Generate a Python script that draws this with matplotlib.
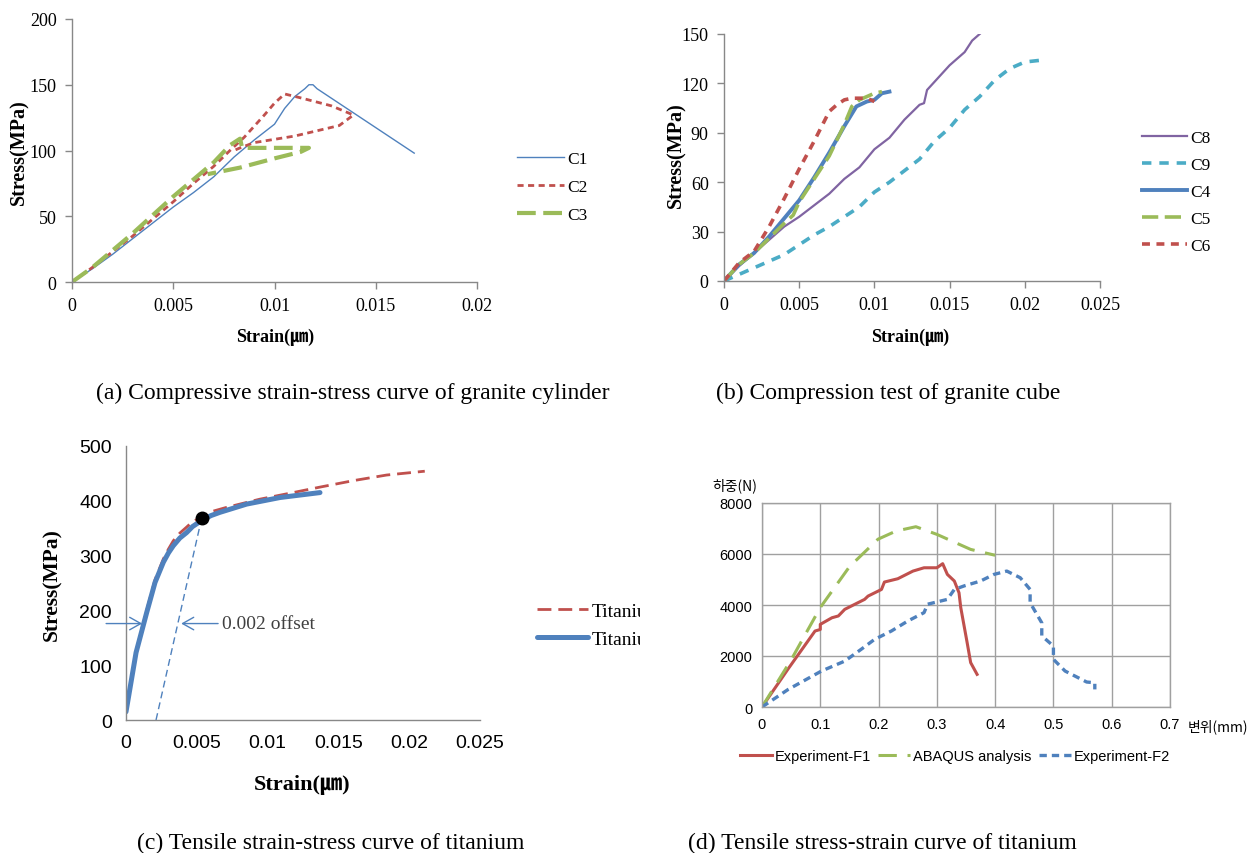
import matplotlib
matplotlib.use("Agg")
import matplotlib.pyplot as plt
from matplotlib.transforms import Bbox, TransformedBbox
from matplotlib.ticker import FuncFormatter, MultipleLocator

# ---------------- data ----------------
# (a) granite cylinder
a_c1_x = [0, 0.001, 0.002, 0.003, 0.004, 0.005, 0.006, 0.007, 0.008, 0.009, 0.010, 0.0105, 0.011, 0.0115, 0.0117, 0.0119, 0.0121, 0.0169]
a_c1_y = [0, 10, 21, 33, 45, 57, 68, 80, 95, 108, 120, 132, 141, 147, 150, 150, 147, 98]
a_c2_x = [0, 0.001, 0.002, 0.003, 0.004, 0.005, 0.006, 0.007, 0.0078, 0.0085, 0.0095, 0.0100, 0.0105, 0.0113, 0.0128, 0.0139, 0.0132, 0.0110, 0.0090, 0.0083, 0.0080]
a_c2_y = [0, 11, 23, 35, 48, 61, 75, 88, 100, 110, 127, 136, 143, 140, 134, 127, 119, 111, 106, 102, 100]
a_c3_x = [0, 0.001, 0.002, 0.003, 0.004, 0.005, 0.006, 0.007, 0.0078, 0.0081, 0.0083, 0.0084, 0.0095, 0.0117, 0.0113, 0.0100, 0.0083, 0.0067]
a_c3_y = [0, 11, 24, 37, 51, 65, 78, 91, 104, 107, 109, 102, 102, 102, 99, 94, 87, 82]

# (b) granite cube
b_c8_x = [0, 0.001, 0.002, 0.003, 0.004, 0.005, 0.006, 0.007, 0.008, 0.009, 0.010, 0.011, 0.012, 0.013, 0.0133, 0.0135, 0.014, 0.015, 0.016, 0.0165, 0.017]
b_c8_y = [0, 9, 17, 25, 33, 39, 46, 53, 62, 69, 80, 87, 98, 107, 108, 116, 121, 131, 139, 146, 150]
b_c9_x = [0, 0.002, 0.004, 0.005, 0.006, 0.007, 0.008, 0.009, 0.010, 0.011, 0.012, 0.013, 0.014, 0.015, 0.016, 0.017, 0.018, 0.019, 0.020, 0.021]
b_c9_y = [0, 8, 16, 22, 28, 33, 39, 45, 54, 60, 67, 74, 85, 93, 104, 112, 122, 129, 133, 134]
b_c4_x = [0, 0.001, 0.002, 0.003, 0.004, 0.005, 0.006, 0.007, 0.008, 0.0088, 0.0095, 0.010, 0.0105, 0.011]
b_c4_y = [0, 10, 17, 27, 38, 49, 63, 78, 94, 106, 109, 110, 114, 115]
b_c5_x = [0, 0.001, 0.002, 0.003, 0.004, 0.0046, 0.005, 0.006, 0.007, 0.008, 0.0085, 0.009, 0.010, 0.0105]
b_c5_y = [0, 10, 17, 26, 35, 40, 48, 62, 76, 95, 106, 110, 114, 115]
b_c6_x = [0, 0.001, 0.002, 0.003, 0.004, 0.005, 0.006, 0.007, 0.0075, 0.008, 0.0085, 0.0095, 0.010]
b_c6_y = [0, 11, 18, 33, 50, 68, 85, 103, 107, 110, 111, 111, 109]

# (c) titanium tensile
c_blue_x = [0, 0.00071, 0.00146, 0.00205, 0.00264, 0.0030, 0.00334, 0.0038, 0.00428, 0.0047, 0.00534, 0.0060, 0.00664, 0.00852, 0.01088, 0.0137]
c_blue_y = [15, 123, 196, 251, 288, 305, 318, 332, 342, 353, 364, 373, 379, 394, 406, 415]
c_red_x = [0, 0.00071, 0.00146, 0.00205, 0.00264, 0.0030, 0.00334, 0.0038, 0.00428, 0.0047, 0.00534, 0.0060, 0.0071, 0.00946, 0.0118, 0.0137, 0.0161, 0.0184, 0.0211]
c_red_y = [15, 125, 200, 256, 294, 312, 327, 341, 352, 362, 370, 380, 388, 403, 415, 425, 437, 447, 454]
c_yield = (0.00534, 368)
c_offset_x = [0.00212, 0.00534]
c_offset_y = [0, 368]
c_arrow_y = 176

# (d) load-displacement
d_f1_x = [0, 0.045, 0.091, 0.1, 0.1, 0.12, 0.131, 0.142, 0.176, 0.182, 0.205, 0.21, 0.233, 0.259, 0.278, 0.3, 0.31, 0.318, 0.33, 0.338, 0.341, 0.352, 0.358, 0.369]
d_f1_y = [0, 1500, 2980, 3040, 3240, 3500, 3570, 3830, 4220, 4350, 4610, 4900, 5030, 5330, 5460, 5460, 5620, 5200, 4940, 4480, 3900, 2520, 1740, 1280]
d_ab_x = [0, 0.05, 0.1, 0.15, 0.199, 0.23, 0.264, 0.3, 0.358, 0.4]
d_ab_y = [0, 1850, 3900, 5500, 6580, 6900, 7070, 6770, 6180, 5950]
d_f2_x = [0, 0.045, 0.102, 0.142, 0.17, 0.193, 0.222, 0.25, 0.278, 0.284, 0.318, 0.33, 0.347, 0.375, 0.398, 0.42, 0.443, 0.46, 0.46, 0.48, 0.48, 0.5, 0.5, 0.52, 0.557, 0.571, 0.571]
d_f2_y = [0, 690, 1410, 1800, 2260, 2650, 2980, 3370, 3700, 4030, 4220, 4610, 4750, 4940, 5200, 5330, 5070, 4610, 4090, 3300, 2790, 2390, 1870, 1410, 980, 950, 690]

# ---------------- style ----------------
BLUE = "#4F81BD"; RED = "#C0504D"; GREEN = "#9BBB59"; PURPLE = "#8064A2"; CYAN = "#4BACC6"
AXC = "#888888"
SERIF = ["Liberation Serif", "Noto Sans CJK KR"]
SANS = ["Liberation Sans", "Noto Sans CJK KR"]
KR = ["Noto Sans CJK KR", "DejaVu Sans"]
CAP = 17

W, H = 1253, 854
fig = plt.figure(figsize=(W / 100, H / 100), dpi=100)


def ax_at(l, t, r, b):
    return fig.add_axes([l / W, 1 - b / H, (r - l) / W, (b - t) / H])


def fx(px):
    return px / W


def fy(py):
    return 1 - py / H


gfmt = FuncFormatter(lambda v, p: f"{v:g}")


def excel_axes(ax, tickfont, tsize, ticks=True):
    for s in ["top", "right"]:
        ax.spines[s].set_visible(False)
    for s in ["left", "bottom"]:
        ax.spines[s].set_color(AXC)
        ax.spines[s].set_linewidth(1.0)
    ax.tick_params(direction="out", length=5 if ticks else 0, width=1, color=AXC, pad=6,
                   labelsize=tsize)
    ax.xaxis.set_major_formatter(gfmt)
    ax.yaxis.set_major_formatter(gfmt)
    for lab in ax.get_xticklabels() + ax.get_yticklabels():
        lab.set_fontfamily(tickfont)


# ---------------- (a) ----------------
ax = ax_at(72, 20, 477, 283)
ax.plot(a_c1_x, a_c1_y, color=BLUE, lw=1.0, label="C1")
ax.plot(a_c2_x, a_c2_y, color=RED, lw=2.0, dashes=(2.2, 1.6), label="C2")
ax.plot(a_c3_x, a_c3_y, color=GREEN, lw=3.0, dashes=(4.5, 1.8), label="C3")
ax.set_xlim(0, 0.02); ax.set_ylim(0, 200)
ax.xaxis.set_major_locator(MultipleLocator(0.005)); ax.yaxis.set_major_locator(MultipleLocator(50))
excel_axes(ax, SERIF, 13)
ax.legend(loc="center left", bbox_to_anchor=(fx(517), fy(188)), bbox_transform=fig.transFigure,
          frameon=False, prop={"family": SERIF, "size": 12.5}, handlelength=2.7, handletextpad=0.2,
          labelspacing=0.7, borderpad=0, borderaxespad=0)
fig.text(fx(275), fy(337), "Strain(㎛)", family=SERIF, weight="bold", size=13, ha="center", va="center")
fig.text(fx(19), fy(152), "Stress(MPa)", family=SERIF, weight="bold", size=14.5, ha="center", va="center", rotation=90)
fig.text(fx(353), fy(393), "(a) Compressive strain-stress curve of granite cylinder", family=SERIF, size=CAP,
         ha="center", va="center")

# ---------------- (b) ----------------
ax = ax_at(724, 35, 1100, 282)
ax.plot(b_c8_x, b_c8_y, color=PURPLE, lw=1.6, label="C8")
ax.plot(b_c9_x, b_c9_y, color=CYAN, lw=2.6, dashes=(2.6, 2.2), label="C9")
ax.plot(b_c4_x, b_c4_y, color=BLUE, lw=2.8, label="C4")
ax.plot(b_c5_x, b_c5_y, color=GREEN, lw=2.6, dashes=(4.5, 1.8), label="C5")
ax.plot(b_c6_x, b_c6_y, color=RED, lw=2.6, dashes=(2.2, 1.8), label="C6")
ax.set_xlim(0, 0.025); ax.set_ylim(0, 150)
ax.xaxis.set_major_locator(MultipleLocator(0.005)); ax.yaxis.set_major_locator(MultipleLocator(30))
excel_axes(ax, SERIF, 13)
ax.legend(loc="center left", bbox_to_anchor=(fx(1142), fy(193)), bbox_transform=fig.transFigure,
          frameon=False, prop={"family": SERIF, "size": 12.5}, handlelength=2.6, handletextpad=0.2,
          labelspacing=0.62, borderpad=0, borderaxespad=0)
fig.text(fx(910), fy(337), "Strain(㎛)", family=SERIF, weight="bold", size=13, ha="center", va="center")
fig.text(fx(676), fy(155), "Stress(MPa)", family=SERIF, weight="bold", size=14.5, ha="center", va="center", rotation=90)
fig.text(fx(888), fy(393), "(b) Compression test of granite cube", family=SERIF, size=CAP,
         ha="center", va="center")

# ---------------- (c) ----------------
ax = ax_at(126, 447, 480, 721)
ax.plot(c_red_x, c_red_y, color=RED, lw=2.0, dashes=(5, 2.5), label="Titanium-1")
ax.plot(c_blue_x, c_blue_y, color=BLUE, lw=3.6, solid_capstyle="round", solid_joinstyle="round", label="Titanium-2")
ax.plot(c_offset_x, c_offset_y, color=BLUE, lw=1.0, dashes=(5, 3))
ax.plot([c_yield[0]], [c_yield[1]], "o", color="black", ms=9, zorder=5)
ax.annotate("", xy=(0.00134, c_arrow_y), xytext=(-0.0016, c_arrow_y),
            arrowprops=dict(arrowstyle="->,head_length=0.8,head_width=0.45", color=BLUE, lw=1.0),
            annotation_clip=False)
ax.annotate("", xy=(0.0037, c_arrow_y), xytext=(0.0067, c_arrow_y),
            arrowprops=dict(arrowstyle="->,head_length=0.8,head_width=0.45", color=BLUE, lw=1.0))
ax.text(0.0068, c_arrow_y, "0.002 offset", family=SERIF, size=14, color="#404040", va="center", ha="left")
ax.set_xlim(0, 0.025); ax.set_ylim(0, 500)
ax.xaxis.set_major_locator(MultipleLocator(0.005)); ax.yaxis.set_major_locator(MultipleLocator(100))
excel_axes(ax, SANS, 14, ticks=False)
ax.tick_params(pad=10)
leg = ax.legend(loc="center left", bbox_to_anchor=(fx(537), fy(626)), bbox_transform=fig.transFigure,
                frameon=False, prop={"family": SERIF, "size": 14}, handlelength=2.6, handletextpad=0.2,
                labelspacing=0.55, borderpad=0, borderaxespad=0)
clip = TransformedBbox(Bbox.from_extents(0, 0, 640 / W, 1), fig.transFigure)
for t in leg.get_texts():
    t.set_clip_box(clip)
    t.set_clip_on(True)
fig.text(fx(302), fy(785), "Strain(㎛)", family=SERIF, weight="bold", size=16, ha="center", va="center")
fig.text(fx(52), fy(585), "Stress(MPa)", family=SERIF, weight="bold", size=15.5, ha="center", va="center", rotation=90)
fig.text(fx(331), fy(843), "(c) Tensile strain-stress curve of titanium", family=SERIF, size=CAP,
         ha="center", va="center")

# ---------------- (d) ----------------
ax = ax_at(762, 504, 1170, 708)
ax.plot(d_f1_x, d_f1_y, color=RED, lw=2.2, label="Experiment-F1")
ax.plot(d_ab_x, d_ab_y, color=GREEN, lw=2.2, dashes=(6, 3.5), label="ABAQUS analysis")
ax.plot(d_f2_x, d_f2_y, color=BLUE, lw=2.4, dashes=(2.2, 1.5), label="Experiment-F2")
ax.set_xlim(0, 0.7); ax.set_ylim(0, 8000)
ax.xaxis.set_major_locator(MultipleLocator(0.1)); ax.yaxis.set_major_locator(MultipleLocator(2000))
ax.grid(True, color="#A0A0A0", lw=1.0)
ax.set_axisbelow(True)
for s in ax.spines.values():
    s.set_color("#A0A0A0"); s.set_linewidth(1.0)
ax.tick_params(length=0, labelsize=10.5, pad=7)
ax.xaxis.set_major_formatter(gfmt); ax.yaxis.set_major_formatter(gfmt)
for lab in ax.get_xticklabels() + ax.get_yticklabels():
    lab.set_fontfamily(SANS)
ax.legend(loc="center", bbox_to_anchor=(fx(955), fy(757)), bbox_transform=fig.transFigure, ncol=3,
          frameon=False, prop={"family": SANS, "size": 10.5}, handlelength=2.2, handletextpad=0.2,
          columnspacing=0.5, borderpad=0, borderaxespad=0)
fig.text(fx(712), fy(486), "하중(N)", family=KR, size=10, ha="left", va="center")
fig.text(fx(1188), fy(727), "변위(mm)", family=KR, size=10, ha="left", va="center")
fig.text(fx(882), fy(843), "(d) Tensile stress-strain curve of titanium", family=SERIF, size=CAP,
         ha="center", va="center")

fig.savefig("out.png", dpi=100, facecolor="white")
